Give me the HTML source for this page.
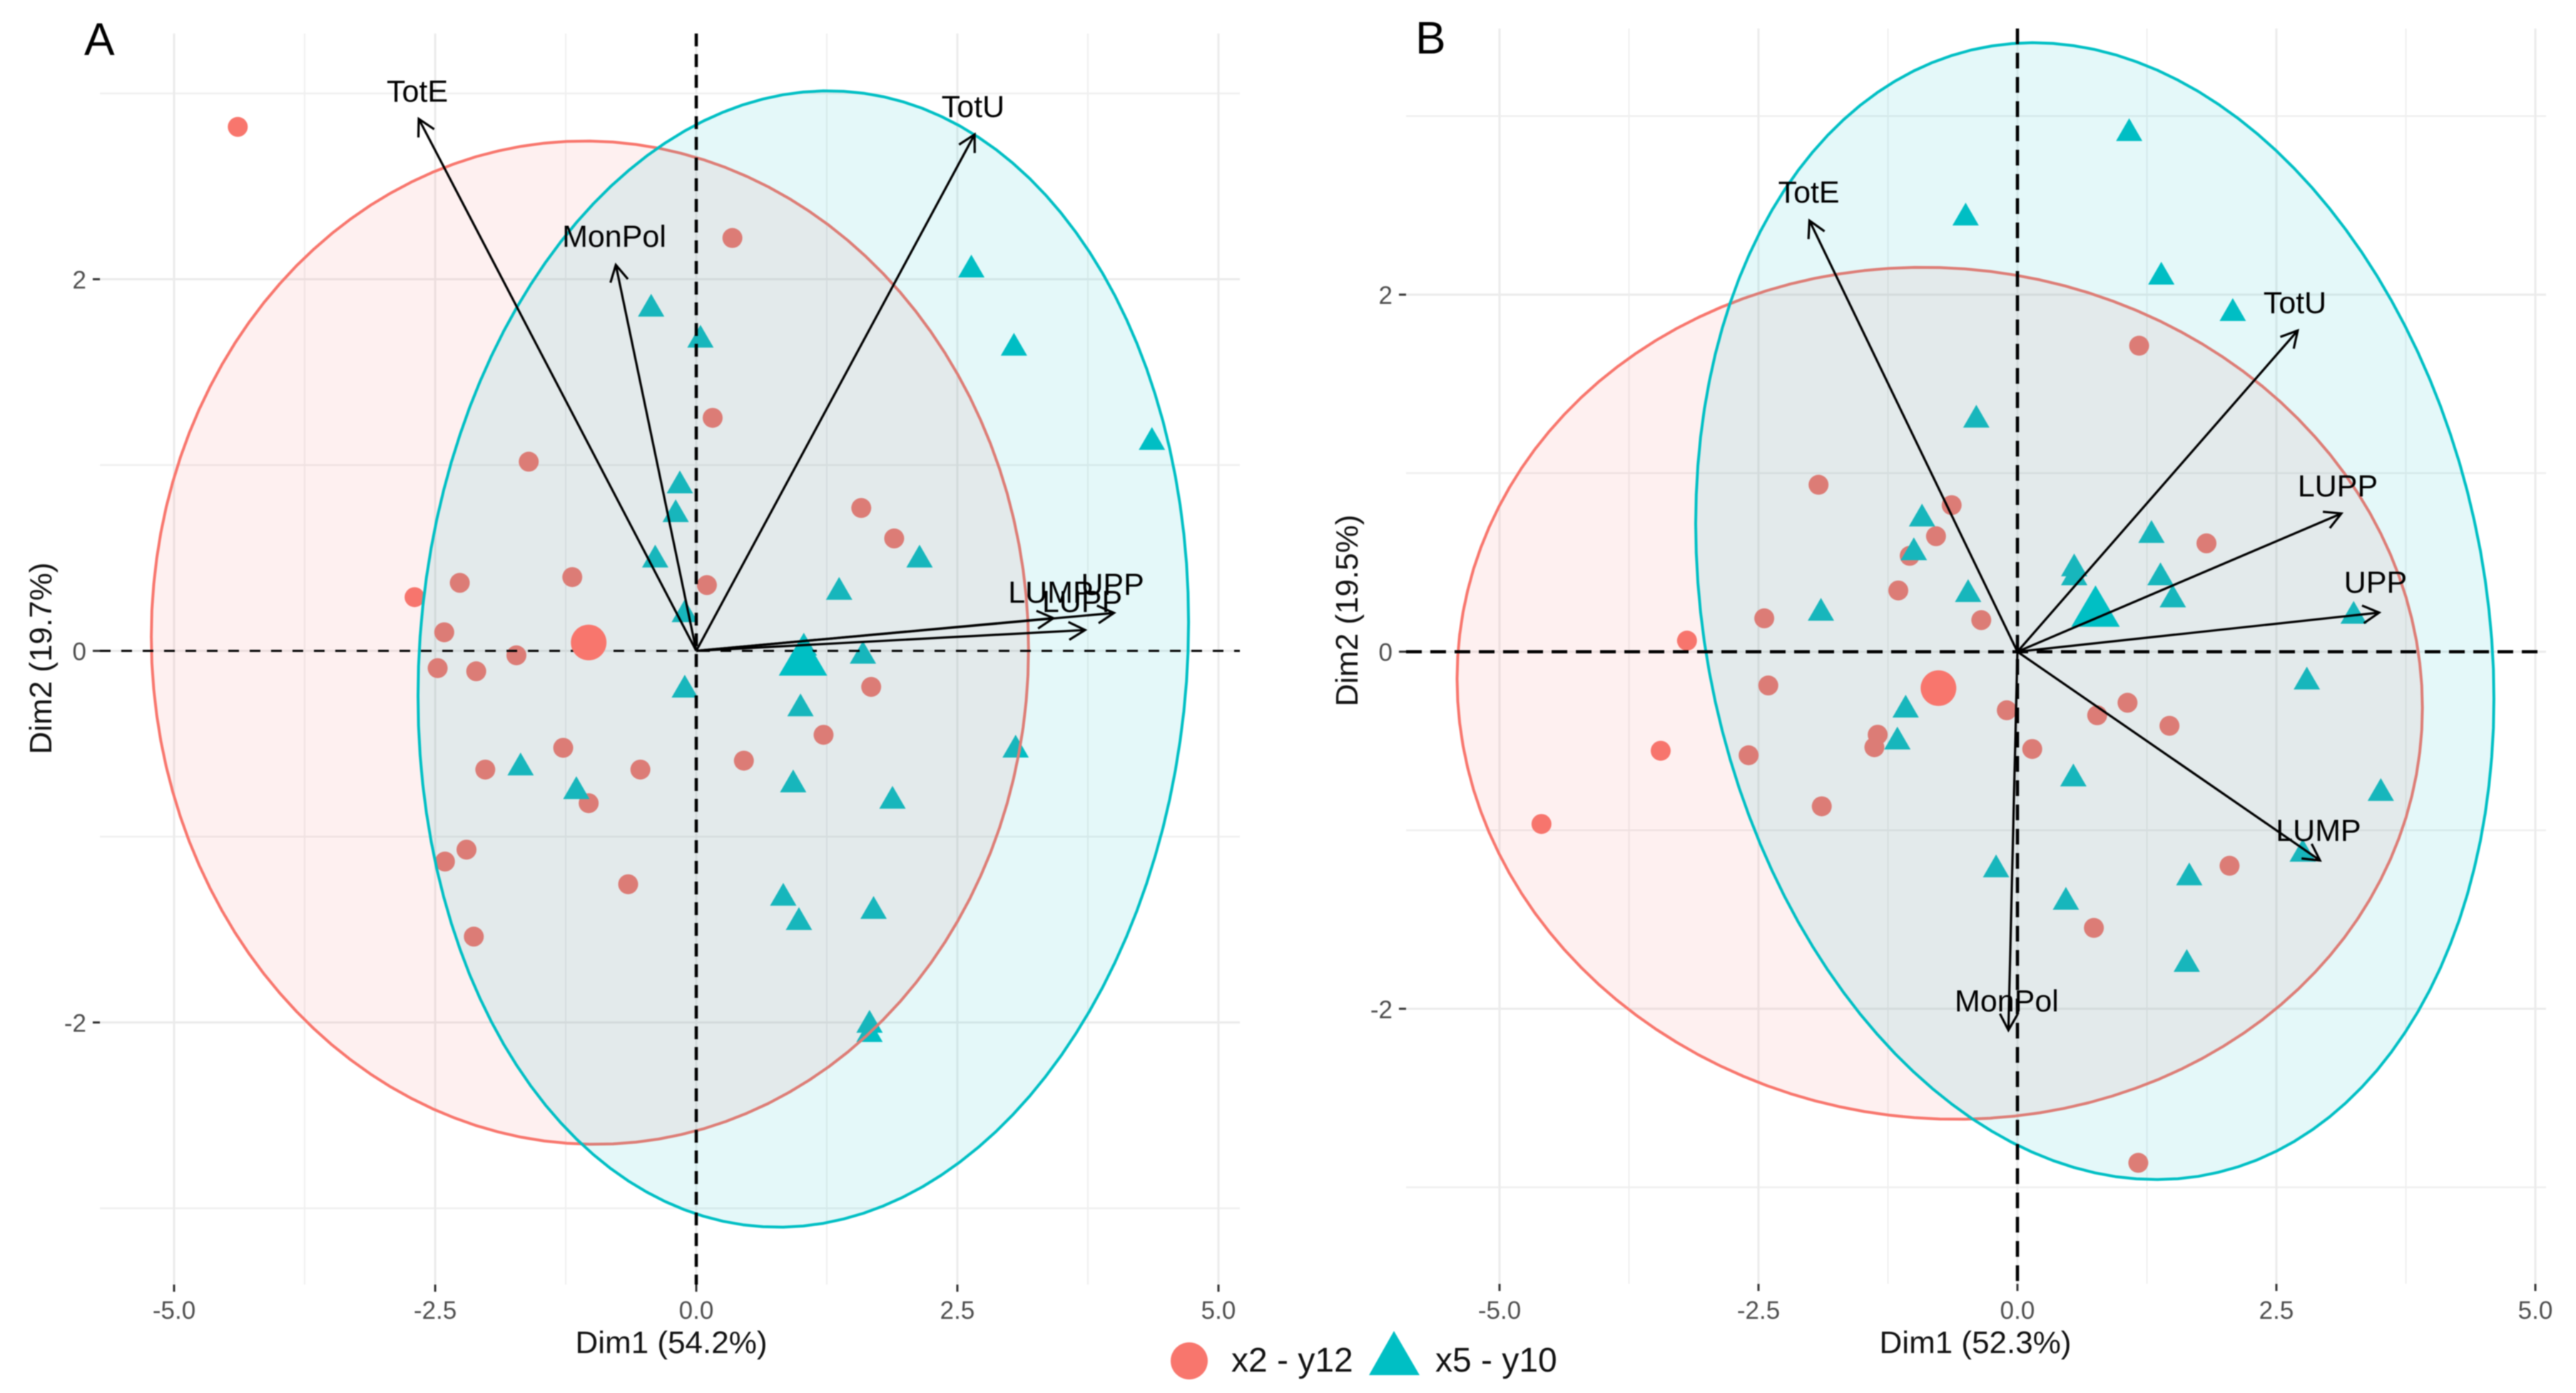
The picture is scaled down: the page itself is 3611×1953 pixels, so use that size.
<!DOCTYPE html>
<html lang="en">
<head>
<meta charset="utf-8">
<title>PCA biplots</title>
<style>
html,body{margin:0;padding:0;background:#fff;width:3611px;height:1953px;overflow:hidden}
svg{display:block;font-family:"Liberation Sans",sans-serif;filter:blur(0.8px)}
</style>
</head>
<body>
<svg id="chart" xmlns="http://www.w3.org/2000/svg" width="3611" height="1953" viewBox="0 0 3611 1953">
  <rect x="0" y="0" width="3611" height="1953" fill="#ffffff"/>
  <g id="panelA"></g>
  <g id="panelB"></g>
  <text x="118" y="77" font-size="64" fill="#000">A</text>
  <text x="1984" y="75" font-size="64" fill="#000">B</text>
  <text x="941" y="1897" font-size="44" text-anchor="middle" fill="#111">Dim1 (54.2%)</text>
  <text x="2769" y="1897" font-size="44" text-anchor="middle" fill="#111">Dim1 (52.3%)</text>
  <text transform="translate(72,923) rotate(-90)" font-size="44" text-anchor="middle" fill="#111">Dim2 (19.7%)</text>
  <text transform="translate(1903,856) rotate(-90)" font-size="44" text-anchor="middle" fill="#111">Dim2 (19.5%)</text>
  <g>
    <circle cx="1667" cy="1908" r="26" fill="#F8766D"/>
    <text x="1726" y="1923" font-size="48" fill="#111">x2 - y12</text>
    <polygon points="1954,1866 1990,1928 1919,1928" fill="#00BFC4"/>
    <text x="2012" y="1923" font-size="48" fill="#111">x5 - y10</text>
  </g>
</svg>
<script>
// Shared axis values and labels
const xTickValues = [-5, -2.5, 0, 2.5, 5];
const xTickLabels = ["-5.0", "-2.5", "0.0", "2.5", "5.0"];
const xMinorValues = [-3.75, -1.25, 1.25, 3.75];
const yTickValues = [-2, 0, 2];
const yTickLabels = ["-2", "0", "2"];
const yMinorValues = [-3, -1, 1, 3];

// Panel A: group x2 - y12 observations
const aRedX = [-4.39,0.346,0.157,-1.604,1.58,1.895,-2.264,-1.187,0.102,-2.697,-2.413,-1.722,-2.476,-2.107,1.675,1.219,-1.274,0.456,-2.02,-0.535,-1.03,-2.2,-2.406,-0.652,-2.13];
const aRedY = [2.82,2.222,1.254,1.018,0.769,0.605,0.366,0.397,0.354,0.289,0.1,-0.024,-0.093,-0.11,-0.194,-0.452,-0.522,-0.591,-0.639,-0.639,-0.82,-1.07,-1.134,-1.256,-1.538];
// Panel A: group x5 - y10 observations
const aTealX = [2.634,-0.432,3.042,0.04,4.363,-0.157,-0.197,-0.393,2.138,1.368,-0.11,1.03,1.596,-0.11,0.998,3.058,-1.682,-1.148,0.928,1.879,0.833,1.698,0.983,1.659,1.659];
const aTealY = [2.065,1.854,1.644,1.687,1.137,0.903,0.748,0.504,0.504,0.33,0.21,0.03,-0.014,-0.196,-0.297,-0.519,-0.615,-0.742,-0.706,-0.794,-1.316,-1.387,-1.447,-2.0,-2.05];
// Panel A: group centroids [x2 - y12, x5 - y10]
const aCentroidX = [-1.03, 1.022];
const aCentroidY = [0.045, -0.033];
// Panel A: confidence ellipses [x2 - y12, x5 - y10]
const aEllipseCx = [-1.018, 1.025];
const aEllipseCy = [0.044, -0.044];
const aEllipseRx = [4.2, 3.689];
const aEllipseRy = [2.7, 3.058];
const aEllipseSkew = [-0.012, 0.065];
// Panel A: variable loadings
const aVarNames = ["TotE","MonPol","TotU","UPP","LUMP","LUPP"];
const aVarX = [-2.657,-0.77,2.665,4.0,3.42,3.723];
const aVarY = [2.863,2.077,2.779,0.204,0.176,0.112];
const aVarLabelX = [-2.657,-0.772,2.664,4.0,3.408,3.709];
const aVarLabelY = [3.006,2.224,2.923,0.351,0.309,0.259];

// Panel B: group x2 - y12 observations
const bRedX = [1.175,-1.92,-0.635,-0.786,-1.04,1.825,-1.15,-2.444,-0.349,-3.19,-2.405,1.063,-0.103,0.77,1.468,-1.349,-1.381,0.143,-3.444,-2.595,-1.889,-4.595,2.048,0.738,1.167];
const bRedY = [1.714,0.935,0.821,0.647,0.537,0.607,0.343,0.187,0.177,0.062,-0.189,-0.286,-0.328,-0.356,-0.415,-0.465,-0.535,-0.545,-0.555,-0.58,-0.866,-0.965,-1.199,-1.547,-2.863];
// Panel B: group x5 - y10 observations
const bTealX = [1.079,-0.5,1.389,2.079,-0.397,-0.921,-1.0,1.294,0.548,0.548,1.381,1.5,-0.476,-1.897,3.246,0.8,2.794,-1.079,-1.159,0.54,3.508,2.754,-0.206,1.659,0.468,1.635];
const bTealY = [2.918,2.445,2.114,1.91,1.313,0.759,0.57,0.667,0.48,0.43,0.43,0.306,0.336,0.231,0.214,0.2,-0.154,-0.311,-0.49,-0.697,-0.778,-1.119,-1.206,-1.251,-1.388,-1.736];
// Panel B: group centroids
const bCentroidX = [-0.762, 0.754];
const bCentroidY = [-0.204, 0.244];
// Panel B: confidence ellipses
const bEllipseCx = [-0.75, 0.747];
const bEllipseCy = [-0.233, 0.227];
const bEllipseRx = [4.66, 3.853];
const bEllipseRy = [2.386, 3.184];
const bEllipseSkew = [-0.034, -0.154];
// Panel B: variable loadings
const bVarNames = ["TotE","MonPol","TotU","UPP","LUMP","LUPP"];
const bVarX = [-2.008,-0.087,2.706,3.492,2.921,3.127];
const bVarY = [2.415,-2.12,1.799,0.219,-1.169,0.774];
const bVarLabelX = [-2.0,-0.09,2.693,3.471,2.92,3.106];
const bVarLabelY = [2.568,-1.963,1.948,0.382,-1.008,0.921];

const SVGNS = "http://www.w3.org/2000/svg";
const RED = "#F8766D";
const TEAL = "#00BFC4";

function make(parent, tag, attrs, text) {
  const el = document.createElementNS(SVGNS, tag);
  for (const k in attrs) el.setAttribute(k, attrs[k]);
  if (text !== undefined) el.textContent = text;
  parent.appendChild(el);
  return el;
}

function drawPanel(root, box, d) {
  const sx = v => box.x0 + v * box.ux;
  const sy = v => box.y0 - v * box.uy;

  // Grid
  xMinorValues.forEach(v => {
    const el = make(root, "line", {x1: sx(v), x2: sx(v), y1: box.top, y2: box.bottom, stroke: "#efefef", "stroke-width": 2});
    
    
  });
  yMinorValues.forEach(v => {
    const el = make(root, "line", {x1: box.left, x2: box.right, y1: sy(v), y2: sy(v), stroke: "#efefef", "stroke-width": 2.5});
    
    
  });
  xTickValues.forEach(v => {
    const el = make(root, "line", {x1: sx(v), x2: sx(v), y1: box.top, y2: box.bottom, stroke: "#ebebeb", "stroke-width": 3});
    
    
  });
  yTickValues.forEach(v => {
    const el = make(root, "line", {x1: box.left, x2: box.right, y1: sy(v), y2: sy(v), stroke: "#ebebeb", "stroke-width": 3});
    
    
  });

  // Ticks and tick labels
  xTickValues.forEach((v, i) => {
    const t = make(root, "line", {x1: sx(v), x2: sx(v), y1: box.bottom, y2: box.bottom + 10, stroke: "#333", "stroke-width": 3});
    
    
    const l = make(root, "text", {x: sx(v), y: 1849, "font-size": 35, "text-anchor": "middle", fill: "#4d4d4d"}, xTickLabels[i]);
    
    
  });
  yTickValues.forEach((v, i) => {
    const t = make(root, "line", {x1: box.left - 10, x2: box.left, y1: sy(v), y2: sy(v), stroke: "#333", "stroke-width": 3});
    
    
    const l = make(root, "text", {x: box.left - 19, y: sy(v) + 13, "font-size": 35, "text-anchor": "end", fill: "#4d4d4d"}, yTickLabels[i]);
    
    
  });

  // Observations
  d.redX.forEach((v, i) => {
    const c = make(root, "circle", {cx: sx(v), cy: sy(d.redY[i]), r: 14, fill: RED});
    
    
  });
  const tri = (cx, cy, w, h) => `${cx},${cy - h * 0.55} ${cx + w / 2},${cy + h * 0.45} ${cx - w / 2},${cy + h * 0.45}`;
  d.tealX.forEach((v, i) => {
    const p = make(root, "polygon", {points: tri(sx(v), sy(d.tealY[i]), 37, 32), fill: TEAL});
    
    
  });

  // Ellipses (drawn over the points)
  const colors = [RED, TEAL];
  d.ellCx.forEach((cx, k) => {
    let path = "";
    const delta = Math.asin(d.ellSkew[k]);
    for (let n = 0; n < 120; n++) {
      const t = n / 120 * 2 * Math.PI;
      const ex = cx + d.ellRx[k] * Math.cos(t);
      const ey = d.ellCy[k] + d.ellRy[k] * Math.sin(t + delta);
      path += (n ? "L" : "M") + sx(ex).toFixed(1) + " " + sy(ey).toFixed(1);
    }
    const e = make(root, "path", {d: path + "Z", fill: colors[k], "fill-opacity": 0.105, stroke: colors[k], "stroke-width": 4, "stroke-linejoin": "round"});
    
    
  });

  // Zero reference lines
  const h = make(root, "line", {x1: box.left, x2: box.right, y1: sy(0), y2: sy(0), stroke: "#000", "stroke-width": box.hWidth, "stroke-dasharray": box.hDash});
  
  
  const vl = make(root, "line", {x1: sx(0), x2: sx(0), y1: box.top, y2: box.bottom, stroke: "#000", "stroke-width": box.vWidth, "stroke-dasharray": box.vDash});
  
  

  // Centroids
  const cc = make(root, "circle", {cx: sx(d.cenX[0]), cy: sy(d.cenY[0]), r: 25, fill: RED});
  
  
  const ct = make(root, "polygon", {points: tri(sx(d.cenX[1]), sy(d.cenY[1]), 68, 58), fill: TEAL});
  
  

  // Variable arrows and labels
  d.varNames.forEach((name, i) => {
    const x1 = sx(d.varX[i]), y1 = sy(d.varY[i]), x0 = sx(0), y0 = sy(0);
    const ang = Math.atan2(y1 - y0, x1 - x0), len = 26, spread = 0.5;
    const hx1 = x1 - len * Math.cos(ang - spread), hy1 = y1 - len * Math.sin(ang - spread);
    const hx2 = x1 - len * Math.cos(ang + spread), hy2 = y1 - len * Math.sin(ang + spread);
    const a = make(root, "path", {d: `M${x0} ${y0}L${x1} ${y1}M${hx1} ${hy1}L${x1} ${y1}L${hx2} ${hy2}`, fill: "none", stroke: "#000", "stroke-width": 3.2});
    
    
    const l = make(root, "text", {x: sx(d.varLabelX[i]) - 2, y: sy(d.varLabelY[i]) + 13, "font-size": 43, "text-anchor": "middle", fill: "#000"}, name);
    
    
  });
}

drawPanel(document.getElementById("panelA"),
  {x0: 976, ux: 146.4, y0: 912.5, uy: 260.5, left: 140, right: 1738, top: 47, bottom: 1801,
   hWidth: 3, hDash: "15 15", vWidth: 4.5, vDash: "18 11"},
  {redX: aRedX, redY: aRedY, tealX: aTealX, tealY: aTealY, cenX: aCentroidX, cenY: aCentroidY,
   ellCx: aEllipseCx, ellCy: aEllipseCy, ellRx: aEllipseRx, ellRy: aEllipseRy, ellSkew: aEllipseSkew,
   varNames: aVarNames, varX: aVarX, varY: aVarY, varLabelX: aVarLabelX, varLabelY: aVarLabelY});

drawPanel(document.getElementById("panelB"),
  {x0: 2828, ux: 145.2, y0: 913.7, uy: 250.3, left: 1971, right: 3569, top: 40, bottom: 1800,
   hWidth: 4.5, hDash: "22 12", vWidth: 4.5, vDash: "22 12"},
  {redX: bRedX, redY: bRedY, tealX: bTealX, tealY: bTealY, cenX: bCentroidX, cenY: bCentroidY,
   ellCx: bEllipseCx, ellCy: bEllipseCy, ellRx: bEllipseRx, ellRy: bEllipseRy, ellSkew: bEllipseSkew,
   varNames: bVarNames, varX: bVarX, varY: bVarY, varLabelX: bVarLabelX, varLabelY: bVarLabelY});
</script>
</body>
</html>
